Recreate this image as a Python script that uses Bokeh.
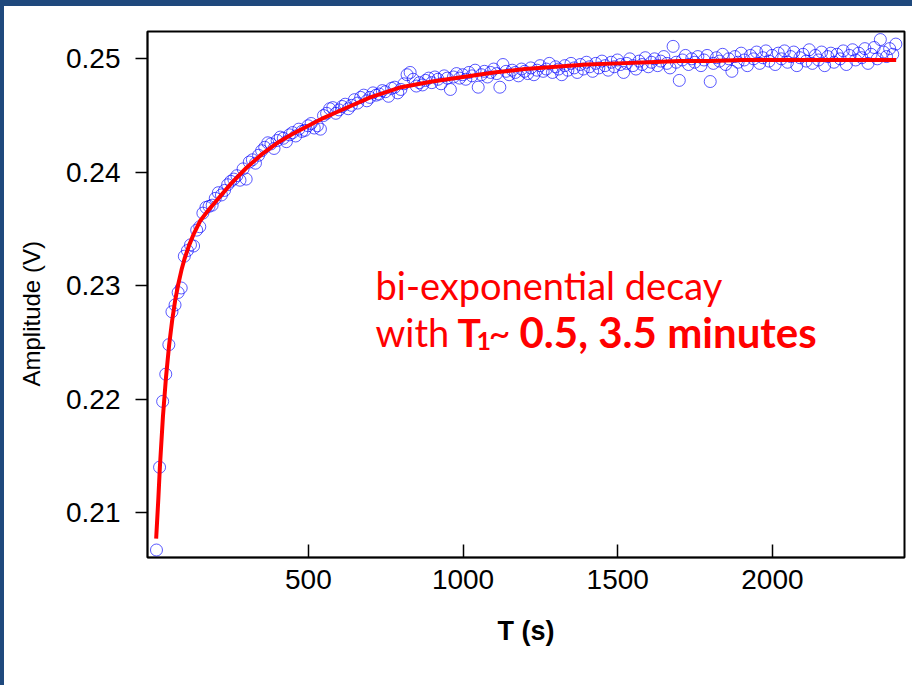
from bokeh.plotting import figure
from bokeh.models import Range1d, FixedTicker, Title
from bokeh.core.properties import value
from bokeh.embed import file_html
from bokeh.resources import INLINE

# ---------------- data ----------------
t_data = [9, 19, 29, 39, 49, 59, 69, 79, 89, 99, 109, 119, 129, 139, 149, 159, 169, 179, 189, 199,
          209, 219, 229, 239, 249, 259, 269, 279, 289, 299, 309, 319, 329, 339, 349, 359, 369, 379, 389, 399,
          409, 419, 429, 439, 449, 459, 469, 479, 489, 499, 509, 519, 529, 539, 549, 559, 569, 579, 589, 599,
          609, 619, 629, 639, 649, 659, 669, 679, 689, 699, 709, 719, 729, 739, 749, 759, 769, 779, 789, 799,
          809, 819, 829, 839, 849, 859, 869, 879, 889, 899, 909, 919, 929, 939, 949, 959, 969, 979, 989, 999,
          1009, 1019, 1029, 1039, 1049, 1059, 1069, 1079, 1089, 1099, 1109, 1119, 1129, 1139, 1149, 1159, 1169, 1179, 1189, 1199,
          1209, 1219, 1229, 1239, 1249, 1259, 1269, 1279, 1289, 1299, 1309, 1319, 1329, 1339, 1349, 1359, 1369, 1379, 1389, 1399,
          1409, 1419, 1429, 1439, 1449, 1459, 1469, 1479, 1489, 1499, 1509, 1519, 1529, 1539, 1549, 1559, 1569, 1579, 1589, 1599,
          1609, 1619, 1629, 1639, 1649, 1659, 1669, 1679, 1689, 1699, 1709, 1719, 1729, 1739, 1749, 1759, 1769, 1779, 1789, 1799,
          1809, 1819, 1829, 1839, 1849, 1859, 1869, 1879, 1889, 1899, 1909, 1919, 1929, 1939, 1949, 1959, 1969, 1979, 1989, 1999,
          2009, 2019, 2029, 2039, 2049, 2059, 2069, 2079, 2089, 2099, 2109, 2119, 2129, 2139, 2149, 2159, 2169, 2179, 2189, 2199,
          2209, 2219, 2229, 2239, 2249, 2259, 2269, 2279, 2289, 2299, 2309, 2319, 2329, 2339, 2349, 2359, 2369, 2379, 2389, 2399]

amp_data = [0.2067, 0.2140, 0.2198, 0.2222, 0.2248, 0.2277, 0.2283, 0.2294, 0.2298, 0.2326,
            0.2331, 0.2336, 0.2335, 0.2349, 0.2352, 0.2364, 0.2369, 0.2370, 0.2371, 0.2377,
            0.2382, 0.2380, 0.2384, 0.2389, 0.2392, 0.2394, 0.2397, 0.2393, 0.2403, 0.2394,
            0.2409, 0.2411, 0.2408, 0.2415, 0.2419, 0.2422, 0.2426, 0.2425, 0.2421, 0.2428,
            0.2431, 0.2430, 0.2427, 0.2433, 0.2435, 0.2432, 0.2438, 0.2436, 0.2437, 0.2441,
            0.2443, 0.2439, 0.2441, 0.2438, 0.2450, 0.2452, 0.2456, 0.2457, 0.2452, 0.2455,
            0.2458, 0.2460, 0.2456, 0.2459, 0.2464, 0.2461, 0.2466, 0.2468, 0.2463, 0.2466,
            0.2470, 0.2468, 0.2469, 0.2472, 0.2471, 0.2467, 0.2474, 0.2475, 0.2470, 0.2473,
            0.2478, 0.2486, 0.2488, 0.2482, 0.2476, 0.2479, 0.2477, 0.2481, 0.2483, 0.2479,
            0.2484, 0.2482, 0.2478, 0.2485, 0.2483, 0.2473, 0.2484, 0.2487, 0.2483, 0.2486,
            0.2482, 0.2488, 0.2485, 0.2490, 0.2475, 0.2486, 0.2489, 0.2484, 0.2488, 0.2491,
            0.2487, 0.2475, 0.2495, 0.2489, 0.2486, 0.2490, 0.2488, 0.2485, 0.2491, 0.2489,
            0.2487, 0.2492, 0.2486, 0.2490, 0.2494, 0.2489, 0.2491, 0.2496, 0.2488, 0.2493,
            0.2491, 0.2486, 0.2494, 0.2490, 0.2496, 0.2492, 0.2488, 0.2495, 0.2491, 0.2497,
            0.2493, 0.2489, 0.2496, 0.2492, 0.2498, 0.2494, 0.2490, 0.2497, 0.2493, 0.2499,
            0.2495, 0.2488, 0.2496, 0.2500, 0.2494, 0.2491, 0.2498, 0.2495, 0.2501, 0.2493,
            0.2497, 0.2500, 0.2494, 0.2498, 0.2502, 0.2496, 0.2492, 0.2511, 0.2497, 0.2481,
            0.2499, 0.2503, 0.2495, 0.2500, 0.2497, 0.2502, 0.2494, 0.2499, 0.2503, 0.2480,
            0.2496, 0.2501, 0.2498, 0.2504, 0.2495, 0.2500, 0.2489, 0.2502, 0.2497, 0.2505,
            0.2499, 0.2494, 0.2503, 0.2500, 0.2506, 0.2496, 0.2501, 0.2507, 0.2498, 0.2503,
            0.2495, 0.2505, 0.2500, 0.2507, 0.2497, 0.2502, 0.2506, 0.2494, 0.2501, 0.2504,
            0.2498, 0.2508, 0.2496, 0.2503, 0.2499, 0.2506, 0.2494, 0.2502, 0.2505, 0.2497,
            0.2504, 0.2500, 0.2507, 0.2495, 0.2503, 0.2508, 0.2499, 0.2505, 0.2501, 0.2509,
            0.2496, 0.2504, 0.2510, 0.2500, 0.2517, 0.2506, 0.2502, 0.2509, 0.2504, 0.2513]

t_fit = [8, 15, 20, 30, 40, 50, 60, 70, 80, 90, 100, 115, 130, 150, 175, 200, 250, 300, 350, 400,
         450, 500, 550, 600, 700, 800, 900, 1000, 1100, 1200, 1300, 1400, 1500, 1600, 1700, 1800,
         1900, 2000, 2100, 2200, 2300, 2400]
amp_fit = [0.2077, 0.2112, 0.2140, 0.2185, 0.2220, 0.2248, 0.2270, 0.2288, 0.2302, 0.2314,
           0.2324, 0.2336, 0.2346, 0.2357, 0.2366, 0.2374, 0.2390, 0.2404, 0.2416, 0.2426,
           0.2434, 0.2441, 0.2448, 0.2454, 0.2466, 0.2475, 0.2480, 0.2484, 0.2488, 0.2491,
           0.2493, 0.2495, 0.2496, 0.2497, 0.2498, 0.2498, 0.2499, 0.2499, 0.2499, 0.2499,
           0.2499, 0.2499]

x_ticks = [500, 1000, 1500, 2000]
y_ticks = [0.21, 0.22, 0.23, 0.24, 0.25]

x_label = "T (s)"
y_label = "Amplitude (V)"
note_line1 = "bi-exponential decay"
note_with = "with "
note_T = "T"
note_sub = "1"
note_tilde = "~"
note_values = "0.5, 3.5 minutes"

# annotation anchors (data units)
NOTE_X = 717
NOTE_Y1 = 0.23009
NOTE_Y2 = 0.22595

RED = "#FF0000"
BLUE = "#0000FF"
FRAME_BLUE = "#1F497D"
AX_FONT = "Liberation Sans"
NOTE_FONT = "Lato"

p = figure(
    frame_width=757, frame_height=526,
    x_range=Range1d(-20, 2427), y_range=Range1d(0.20604, 0.25241),
    output_backend="svg", toolbar_location=None,
    min_border_left=145, min_border_right=10, min_border_top=31, min_border_bottom=128,
    background_fill_color="white", border_fill_color=None,
    styles={"background-color": "white",
            "box-shadow": "inset 4px 6px 0 0 " + FRAME_BLUE},
)
p.grid.visible = False
p.outline_line_color = "black"
p.outline_line_width = 2

# axes
for ax in (p.xaxis[0], p.yaxis[0]):
    ax.axis_line_color = "black"
    ax.axis_line_width = 1.5
    ax.major_tick_line_color = "black"
    ax.major_tick_line_width = 1.5
    ax.minor_tick_line_color = None
    ax.major_label_text_font = AX_FONT
    ax.major_label_text_font_size = "28px"
    ax.major_label_text_color = "black"
    ax.axis_label_text_font = AX_FONT
    ax.axis_label_text_color = "black"

p.xaxis.ticker = FixedTicker(ticks=x_ticks)
p.xaxis.major_tick_in = 13
p.xaxis.major_tick_out = 0
p.xaxis.major_label_standoff = 12
p.xaxis.axis_label = x_label
p.xaxis.axis_label_text_font_size = "27px"
p.xaxis.axis_label_text_font_style = "bold"
p.xaxis.axis_label_standoff = 24

p.yaxis.ticker = FixedTicker(ticks=y_ticks)
p.yaxis.major_tick_in = 0
p.yaxis.major_tick_out = 12
p.yaxis.major_label_standoff = 15

# y axis title as a side title so it can be shifted along the axis like the original
p.add_layout(Title(text=y_label, align="left", offset=171, standoff=34,
                   vertical_align="top",
                   text_font=AX_FONT, text_font_size="24px", text_font_style="normal",
                   text_color="black"), "left")

# data
p.scatter(t_data, amp_data, marker="circle", size=12, fill_color=None,
          line_color=BLUE, line_alpha=0.65, line_width=1)
p.line(t_fit, amp_fit, line_color=RED, line_width=4)

# annotation
p.text(x=[NOTE_X], y=[NOTE_Y1], text=[note_line1], text_font=value(NOTE_FONT),
       text_font_size="38px", text_color=RED, text_baseline="alphabetic")
p.text(x=[NOTE_X], y=[NOTE_Y2], text=[note_with], text_font=value(NOTE_FONT),
       text_font_size="38px", text_color=RED, text_baseline="alphabetic")
p.text(x=[NOTE_X], y=[NOTE_Y2], text=[note_T], text_font=value(NOTE_FONT),
       text_font_size="39px", text_font_style="bold", text_color=RED,
       text_baseline="alphabetic", x_offset=82)
p.text(x=[NOTE_X], y=[NOTE_Y2], text=[note_sub], text_font=value(NOTE_FONT),
       text_font_size="25px", text_font_style="bold", text_color=RED,
       text_baseline="alphabetic", x_offset=101, y_offset=9)
p.text(x=[NOTE_X], y=[NOTE_Y2], text=[note_tilde], text_font=value(NOTE_FONT),
       text_font_size="38px", text_color=RED, text_baseline="alphabetic", x_offset=113)
p.text(x=[NOTE_X], y=[NOTE_Y2], text=[note_values], text_font=value(NOTE_FONT),
       text_font_size="42px", text_font_style="bold", text_color=RED,
       text_baseline="alphabetic", x_offset=144)

open("out.html", "w").write(file_html(p, INLINE))
